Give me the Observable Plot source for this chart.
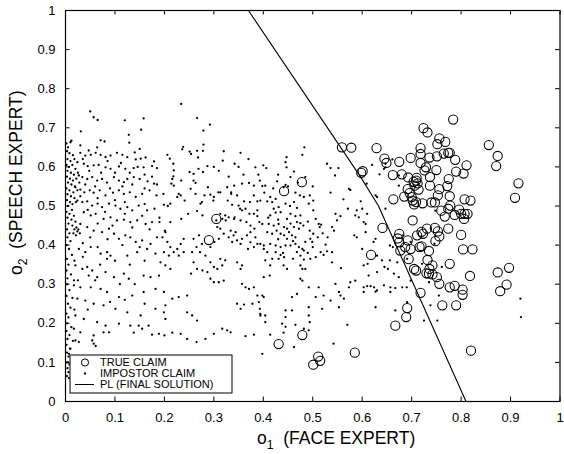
<!DOCTYPE html>
<html><head><meta charset="utf-8">
<script src="https://cdn.jsdelivr.net/npm/d3@7"></script>
<script src="https://cdn.jsdelivr.net/npm/@observablehq/plot@0.6"></script>
<style>html,body{margin:0;padding:0;background:#fff}svg{display:block}</style>
</head><body><div id="chart"></div>
<script>
// ---------- DATA ----------
const tickValues = [0,0.1,0.2,0.3,0.4,0.5,0.6,0.7,0.8,0.9,1];
const tickLabels = ["0","0.1","0.2","0.3","0.4","0.5","0.6","0.7","0.8","0.9","1"];
const legendLabels = ["TRUE CLAIM","IMPOSTOR CLAIM","PL (FINAL SOLUTION)"];
const xTitle = ["o","1","(FACE EXPERT)"];
const yTitle = ["o","2","(SPEECH EXPERT)"];

// PL (final solution) decision boundary
const plLine = [[0.370,1.0],[0.598,0.572],[0.633,0.500],[0.810,0.0]];

// true claims (circles)
const trueClaims = [
[0.559,0.650],[0.578,0.649],[0.629,0.648],[0.598,0.585],[0.601,0.589],[0.645,0.621],[0.649,0.610],[0.675,0.613],[0.698,0.623],[0.724,0.699],
[0.732,0.688],[0.784,0.721],[0.718,0.648],[0.756,0.673],[0.768,0.664],[0.752,0.658],[0.774,0.636],[0.777,0.636],[0.765,0.634],[0.718,0.633],
[0.736,0.624],[0.751,0.627],[0.788,0.618],[0.811,0.604],[0.856,0.656],[0.874,0.628],[0.871,0.602],[0.916,0.558],[0.909,0.521],[0.718,0.610],
[0.729,0.599],[0.726,0.591],[0.750,0.592],[0.662,0.579],[0.680,0.581],[0.693,0.573],[0.710,0.572],[0.709,0.565],[0.712,0.558],[0.704,0.562],
[0.737,0.574],[0.775,0.569],[0.790,0.588],[0.805,0.583],[0.772,0.551],[0.737,0.552],[0.756,0.543],[0.692,0.543],[0.696,0.533],[0.700,0.523],
[0.685,0.524],[0.714,0.542],[0.706,0.552],[0.702,0.514],[0.705,0.504],[0.709,0.510],[0.722,0.507],[0.740,0.509],[0.747,0.509],[0.753,0.527],
[0.777,0.525],[0.760,0.488],[0.778,0.501],[0.774,0.493],[0.787,0.477],[0.796,0.491],[0.800,0.480],[0.807,0.517],[0.819,0.514],[0.807,0.480],
[0.813,0.480],[0.806,0.467],[0.767,0.473],[0.663,0.517],[0.702,0.463],[0.641,0.444],[0.731,0.442],[0.720,0.434],[0.723,0.429],[0.711,0.425],
[0.747,0.444],[0.753,0.435],[0.756,0.422],[0.748,0.410],[0.774,0.442],[0.675,0.429],[0.672,0.417],[0.675,0.407],[0.677,0.386],[0.687,0.395],
[0.692,0.412],[0.716,0.395],[0.720,0.397],[0.735,0.385],[0.698,0.390],[0.800,0.426],[0.804,0.389],[0.823,0.389],[0.694,0.364],[0.732,0.362],
[0.742,0.348],[0.705,0.339],[0.709,0.335],[0.730,0.328],[0.735,0.327],[0.742,0.325],[0.736,0.339],[0.751,0.318],[0.756,0.301],[0.777,0.352],
[0.777,0.292],[0.787,0.296],[0.803,0.286],[0.803,0.273],[0.818,0.321],[0.874,0.330],[0.897,0.342],[0.892,0.299],[0.879,0.282],[0.718,0.278],
[0.691,0.239],[0.689,0.216],[0.667,0.194],[0.762,0.246],[0.790,0.246],[0.820,0.130],[0.585,0.125],[0.618,0.375],[0.478,0.561],[0.442,0.538],
[0.305,0.467],[0.290,0.413],[0.479,0.170],[0.431,0.147],[0.511,0.115],[0.515,0.104],[0.501,0.094]
];

// impostor claims (dots), grouped by region
const impostorStrip = [
[0.002,0.66],[0.005,0.65],[0.003,0.64],[0.008,0.635],[0.012,0.667],[0.015,0.63],[0.004,0.62],[0.010,0.615],[0.018,0.62],[0.002,0.605],
[0.007,0.60],[0.014,0.605],[0.020,0.595],[0.004,0.59],[0.011,0.585],[0.017,0.58],[0.025,0.585],[0.003,0.575],[0.009,0.57],[0.015,0.565],
[0.022,0.57],[0.005,0.56],[0.012,0.555],[0.019,0.55],[0.028,0.56],[0.002,0.545],[0.008,0.54],[0.016,0.535],[0.024,0.54],[0.004,0.53],
[0.011,0.525],[0.018,0.52],[0.003,0.515],[0.009,0.51],[0.014,0.505],[0.021,0.51],[0.005,0.50],[0.013,0.49],[0.002,0.485],[0.008,0.48],
[0.017,0.475],[0.004,0.47],[0.012,0.465],[0.020,0.46],[0.006,0.455],[0.014,0.45],[0.022,0.445],[0.026,0.44],[0.018,0.44],[0.024,0.435],
[0.029,0.43],[0.016,0.43],[0.021,0.425],[0.003,0.44],[0.008,0.43],[0.004,0.42],[0.010,0.41],[0.002,0.40],[0.007,0.39],[0.013,0.375],
[0.003,0.365],[0.018,0.36],[0.006,0.35],[0.002,0.335],[0.011,0.325],[0.004,0.315],[0.017,0.31],[0.003,0.30],[0.008,0.285],[0.002,0.27],
[0.014,0.265],[0.005,0.25],[0.010,0.24],[0.002,0.225],[0.018,0.235],[0.006,0.215],[0.003,0.20],[0.012,0.19],[0.002,0.18],[0.008,0.17],
[0.004,0.16],[0.015,0.155],[0.002,0.145],[0.009,0.135],[0.003,0.125],[0.006,0.115],[0.002,0.10],[0.008,0.095],[0.004,0.085],[0.006,0.075],
[0.003,0.065],[0.007,0.06]
];
const impostorLeft = [
[0.050,0.742],[0.057,0.727],[0.065,0.720],[0.120,0.719],[0.158,0.724],[0.031,0.691],[0.153,0.695],[0.128,0.682],[0.129,0.662],[0.071,0.668],
[0.079,0.665],[0.010,0.663],[0.030,0.655],[0.047,0.642],[0.064,0.650],[0.150,0.646],[0.140,0.637],
[0.030,0.636],[0.040,0.629],[0.051,0.631],[0.061,0.636],[0.071,0.631],[0.081,0.625],[0.091,0.629],[0.104,0.636],[0.115,0.631],[0.125,0.625],
[0.142,0.619],[0.152,0.621],[0.162,0.624],[0.179,0.614],[0.024,0.612],[0.037,0.608],[0.045,0.602],[0.057,0.604],[0.067,0.605],[0.081,0.599],
[0.091,0.595],[0.108,0.601],[0.121,0.595],[0.138,0.597],[0.158,0.599],[0.175,0.602],[0.185,0.597],[0.027,0.578],[0.034,0.574],[0.044,0.569],
[0.054,0.574],[0.064,0.565],[0.074,0.569],[0.084,0.560],[0.098,0.574],[0.108,0.565],[0.118,0.561],[0.125,0.569],[0.138,0.574],[0.150,0.569],
[0.166,0.563],[0.179,0.557],[0.020,0.548],[0.030,0.542],[0.038,0.535],[0.049,0.540],[0.057,0.534],[0.069,0.540],[0.081,0.527],[0.096,0.534],
[0.108,0.540],[0.118,0.531],[0.130,0.535],[0.142,0.523],[0.155,0.531],[0.170,0.540],[0.184,0.527],[0.024,0.514],[0.034,0.510],[0.044,0.512],
[0.054,0.501],[0.065,0.506],[0.074,0.497],[0.088,0.506],[0.101,0.501],[0.111,0.493],[0.125,0.497],[0.135,0.489],[0.148,0.501],[0.165,0.489],
[0.180,0.493],[0.037,0.484],[0.051,0.476],[0.061,0.480],[0.077,0.467],[0.091,0.471],[0.104,0.463],[0.118,0.465],[0.131,0.459],[0.145,0.463],
[0.162,0.454],[0.175,0.459],[0.030,0.454],[0.044,0.446],[0.057,0.437],[0.074,0.433],[0.088,0.442],[0.098,0.429],[0.108,0.416],[0.121,0.425],
[0.131,0.420],[0.142,0.408],[0.155,0.412],[0.172,0.403],[0.185,0.420],[0.027,0.390],[0.040,0.382],[0.051,0.395],[0.071,0.378],[0.084,0.382],
[0.091,0.373],[0.084,0.365],[0.125,0.373],[0.145,0.382],[0.165,0.390],[0.182,0.378],[0.020,0.348],[0.034,0.339],[0.044,0.344],[0.054,0.335],
[0.047,0.322],[0.064,0.318],[0.081,0.331],[0.098,0.318],[0.118,0.327],[0.128,0.314],[0.158,0.322],[0.172,0.318],[0.189,0.322],[0.017,0.297],
[0.030,0.292],[0.051,0.292],[0.071,0.288],[0.084,0.280],[0.108,0.267],[0.135,0.271],[0.158,0.280],[0.182,0.288],[0.024,0.263],[0.040,0.258],
[0.057,0.250],[0.077,0.246],[0.101,0.237],[0.125,0.228],[0.152,0.220],[0.182,0.237],[0.020,0.220],[0.037,0.211],[0.064,0.203],[0.081,0.194],
[0.108,0.199],[0.131,0.194],[0.155,0.186],[0.168,0.194],[0.017,0.186],[0.030,0.177],[0.057,0.169],[0.077,0.177],[0.088,0.177],[0.138,0.176],
[0.148,0.194],[0.175,0.171],[0.189,0.173],[0.020,0.156],[0.027,0.152],[0.054,0.156],[0.057,0.148],[0.061,0.142],[0.010,0.135],[0.007,0.122],
[0.005,0.100],
[0.035,0.620],[0.048,0.590],[0.072,0.585],[0.085,0.615],[0.100,0.585],[0.112,0.610],[0.130,0.585],[0.146,0.600],[0.160,0.580],[0.175,0.575],
[0.040,0.555],[0.060,0.550],[0.090,0.545],[0.115,0.550],[0.135,0.555],[0.160,0.545],[0.185,0.555],[0.030,0.525],[0.065,0.520],[0.100,0.515],
[0.120,0.510],[0.160,0.505],[0.045,0.490],[0.080,0.485],[0.120,0.480],[0.155,0.475],[0.190,0.470],[0.065,0.455],[0.095,0.450],[0.135,0.445],
[0.170,0.440],[0.050,0.420],[0.085,0.415],[0.115,0.400],[0.150,0.395],[0.035,0.405],[0.065,0.395],[0.100,0.360],[0.130,0.350],[0.160,0.360],
[0.070,0.350],[0.035,0.370],[0.110,0.300],[0.140,0.300],[0.060,0.310],[0.025,0.310],[0.090,0.255],[0.120,0.260],[0.045,0.235],[0.160,0.250]
];
const impostorMidLeft = [
[0.234,0.761],[0.266,0.725],[0.279,0.693],[0.292,0.708],[0.279,0.657],[0.238,0.651],[0.236,0.645],[0.251,0.639],[0.254,0.633],[0.266,0.641],
[0.268,0.624],[0.206,0.631],[0.211,0.621],[0.218,0.608],[0.219,0.591],[0.218,0.576],[0.216,0.569],[0.214,0.557],[0.278,0.641],[0.287,0.602],
[0.318,0.616],[0.354,0.636],[0.342,0.608],[0.384,0.599],[0.269,0.595],[0.278,0.587],[0.251,0.587],[0.259,0.582],[0.259,0.565],[0.263,0.559],
[0.234,0.565],[0.229,0.531],[0.233,0.527],[0.293,0.529],[0.300,0.523],[0.309,0.535],[0.273,0.506],[0.276,0.510],[0.199,0.503],[0.207,0.500],
[0.198,0.531],[0.219,0.552],[0.253,0.544],[0.327,0.548],[0.341,0.552],[0.357,0.557],[0.371,0.559],[0.381,0.552],[0.393,0.565],[0.335,0.535],
[0.347,0.527],[0.361,0.512],[0.373,0.510],[0.381,0.527],[0.388,0.512],[0.337,0.503],[0.350,0.501],[0.364,0.493],[0.357,0.489],[0.388,0.489],
[0.381,0.480],[0.388,0.474],[0.392,0.459],[0.374,0.450],[0.323,0.476],[0.330,0.471],[0.317,0.467],[0.305,0.463],[0.341,0.467],[0.354,0.463],
[0.366,0.459],[0.374,0.433],[0.382,0.442],[0.367,0.425],[0.357,0.416],[0.384,0.420],[0.374,0.407],[0.388,0.403],[0.369,0.390],[0.381,0.395],
[0.344,0.433],[0.334,0.437],[0.340,0.425],[0.347,0.412],[0.337,0.408],[0.354,0.403],[0.330,0.420],[0.307,0.446],[0.313,0.442],[0.320,0.429],
[0.310,0.416],[0.301,0.408],[0.293,0.395],[0.270,0.425],[0.259,0.416],[0.276,0.403],[0.265,0.395],[0.256,0.382],[0.272,0.382],[0.283,0.373],
[0.239,0.416],[0.233,0.403],[0.226,0.390],[0.219,0.382],[0.229,0.373],[0.239,0.382],[0.202,0.433],[0.196,0.420],[0.206,0.408],[0.212,0.395],
[0.199,0.382],[0.209,0.373],[0.192,0.356],[0.202,0.348],[0.212,0.339],[0.259,0.356],[0.266,0.339],[0.254,0.327],[0.277,0.335],[0.293,0.356],
[0.300,0.344],[0.287,0.331],[0.313,0.365],[0.323,0.361],[0.317,0.348],[0.307,0.339],[0.347,0.356],[0.357,0.348],[0.354,0.339],[0.293,0.314],
[0.300,0.305],[0.310,0.305],[0.320,0.309],[0.357,0.301],[0.364,0.292],[0.371,0.288],[0.381,0.292],[0.388,0.271],[0.391,0.254],[0.378,0.250],
[0.393,0.237],[0.394,0.224],[0.347,0.250],[0.354,0.237],[0.361,0.248],[0.246,0.271],[0.229,0.267],[0.216,0.263],[0.199,0.280],[0.202,0.246],
[0.199,0.228],[0.202,0.211],[0.246,0.228],[0.256,0.220],[0.266,0.207],[0.317,0.186],[0.327,0.182],[0.334,0.177],[0.233,0.173],[0.216,0.176],
[0.200,0.169],[0.246,0.160],[0.265,0.152],[0.364,0.167],[0.381,0.171],[0.300,0.173],[0.283,0.160],
[0.190,0.459],[0.201,0.437],[0.212,0.459],[0.234,0.467],[0.248,0.480],[0.266,0.487],[0.277,0.476],[0.212,0.506],[0.226,0.523],[0.241,0.514],
[0.263,0.531],[0.281,0.527],[0.299,0.514],[0.288,0.548],[0.313,0.535],[0.328,0.514],[0.335,0.531],[0.313,0.480],[0.324,0.463],[0.342,0.471],
[0.353,0.493],[0.372,0.480],[0.360,0.580],[0.330,0.575],[0.310,0.590],[0.350,0.600],[0.370,0.620],[0.320,0.640],[0.300,0.600],[0.390,0.580]
];
const impostorMid = [
[0.483,0.650],[0.479,0.631],[0.447,0.625],[0.445,0.612],[0.447,0.599],[0.406,0.597],[0.400,0.604],[0.529,0.608],[0.536,0.597],[0.552,0.597],
[0.545,0.578],[0.462,0.588],[0.455,0.574],[0.485,0.574],[0.428,0.563],[0.398,0.551],[0.404,0.552],[0.445,0.554],[0.441,0.548],[0.573,0.544],
[0.576,0.541],[0.402,0.534],[0.465,0.534],[0.474,0.527],[0.482,0.523],[0.494,0.527],[0.536,0.534],[0.501,0.514],[0.492,0.506],[0.414,0.523],
[0.425,0.518],[0.418,0.510],[0.394,0.514],[0.408,0.512],[0.445,0.506],[0.462,0.510],[0.454,0.500],[0.468,0.495],[0.562,0.517],[0.571,0.493],
[0.589,0.489],[0.597,0.512],[0.421,0.493],[0.431,0.497],[0.425,0.483],[0.435,0.484],[0.414,0.476],[0.455,0.480],[0.465,0.474],[0.475,0.476],
[0.448,0.467],[0.501,0.489],[0.506,0.467],[0.546,0.480],[0.556,0.474],[0.549,0.463],[0.586,0.476],[0.593,0.471],[0.398,0.454],[0.411,0.454],
[0.421,0.450],[0.431,0.454],[0.442,0.446],[0.448,0.442],[0.468,0.459],[0.475,0.456],[0.481,0.450],[0.472,0.442],[0.462,0.446],[0.512,0.454],
[0.517,0.452],[0.514,0.446],[0.539,0.446],[0.543,0.437],[0.408,0.433],[0.418,0.429],[0.427,0.437],[0.435,0.429],[0.442,0.425],[0.452,0.433],
[0.458,0.425],[0.448,0.416],[0.465,0.420],[0.494,0.437],[0.501,0.429],[0.495,0.416],[0.485,0.408],[0.584,0.425],[0.589,0.420],[0.394,0.403],
[0.401,0.399],[0.414,0.403],[0.425,0.399],[0.435,0.395],[0.445,0.399],[0.455,0.399],[0.465,0.403],[0.472,0.395],[0.479,0.390],[0.468,0.382],
[0.482,0.386],[0.499,0.408],[0.526,0.401],[0.516,0.382],[0.522,0.375],[0.529,0.384],[0.401,0.390],[0.408,0.382],[0.425,0.382],[0.435,0.375],
[0.442,0.369],[0.431,0.365],[0.404,0.361],[0.418,0.365],[0.414,0.348],[0.475,0.373],[0.482,0.363],[0.495,0.365],[0.506,0.369],[0.539,0.382],
[0.539,0.356],[0.557,0.341],[0.441,0.348],[0.448,0.339],[0.475,0.348],[0.479,0.339],[0.485,0.339],[0.401,0.318],[0.413,0.322],[0.475,0.314],
[0.479,0.309],[0.546,0.301],[0.576,0.305],[0.586,0.309],[0.573,0.292],[0.492,0.292],[0.512,0.292],[0.553,0.280],[0.556,0.271],[0.563,0.263],
[0.458,0.267],[0.468,0.275],[0.506,0.267],[0.522,0.271],[0.536,0.258],[0.398,0.271],[0.401,0.267],[0.492,0.241],[0.519,0.237],[0.553,0.241],
[0.445,0.233],[0.458,0.233],[0.394,0.220],[0.404,0.220],[0.445,0.216],[0.492,0.220],[0.494,0.203],[0.404,0.203],[0.438,0.199],[0.445,0.191],
[0.465,0.196],[0.482,0.186],[0.492,0.182],[0.414,0.171],[0.441,0.176],[0.570,0.196],[0.542,0.148],[0.462,0.139],[0.398,0.122],
[0.410,0.470],[0.430,0.465],[0.455,0.455],[0.490,0.460],[0.520,0.430],[0.530,0.420],[0.460,0.410],[0.500,0.395],[0.510,0.420],[0.430,0.415],
[0.440,0.380],[0.460,0.365],[0.490,0.380],[0.450,0.550],[0.420,0.545],[0.470,0.560],[0.500,0.550],[0.430,0.580]
];
const impostorRight = [
[0.620,0.605],[0.661,0.619],[0.647,0.608],[0.635,0.581],[0.644,0.595],[0.647,0.599],[0.674,0.578],[0.609,0.557],[0.674,0.552],[0.630,0.523],
[0.600,0.493],[0.610,0.480],[0.603,0.459],[0.607,0.454],[0.627,0.527],[0.647,0.493],[0.748,0.488],[0.746,0.403],[0.721,0.352],[0.761,0.344],
[0.735,0.305],[0.738,0.246],[0.755,0.271],[0.725,0.207],[0.752,0.207],[0.607,0.433],[0.600,0.390],[0.623,0.408],[0.627,0.416],[0.611,0.352],
[0.603,0.348],[0.630,0.373],[0.640,0.361],[0.656,0.399],[0.662,0.395],[0.645,0.344],[0.652,0.339],[0.656,0.361],[0.664,0.327],[0.674,0.318],
[0.603,0.292],[0.610,0.295],[0.617,0.295],[0.624,0.292],[0.630,0.284],[0.644,0.297],[0.657,0.292],[0.667,0.290],[0.681,0.292],[0.603,0.280],
[0.627,0.281],[0.613,0.322],[0.630,0.331],[0.657,0.280],[0.627,0.241],[0.667,0.233],[0.691,0.254],[0.690,0.292],[0.671,0.356],[0.691,0.365],
[0.683,0.425],[0.698,0.408],[0.698,0.309],[0.920,0.263],[0.921,0.216]
];
const impostor = [...impostorStrip, ...impostorLeft, ...impostorMidLeft, ...impostorMid, ...impostorRight];

// ---------- CHART ----------
const FONT = "'Liberation Sans', Arial, Helvetica, sans-serif";
const fmt = d => tickLabels[tickValues.indexOf(d)];
const W = 564, H = 454, ML = 65, MR = 4.5, MT = 10, MB = 53;
const plotW = W - ML - MR, plotH = H - MT - MB, TICK = 4.5;

const chart = Plot.plot({
  width: W, height: H,
  marginLeft: ML, marginRight: MR, marginTop: MT, marginBottom: MB,
  x: {domain: [0, 1]},
  y: {domain: [0, 1]},
  style: {fontFamily: FONT, fontSize: "13px", color: "black", background: "white", overflow: "visible"},
  marks: [
    Plot.dot(impostor, {x: d => d[0], y: d => d[1], r: 1.15, fill: "black", stroke: "none"}),
    Plot.dot(trueClaims, {x: d => d[0], y: d => d[1], r: 4.6, fill: "none", stroke: "black", strokeWidth: 1.05}),
    Plot.line(plLine, {x: d => d[0], y: d => d[1], stroke: "black", strokeWidth: 1.1}),
    Plot.tickX(tickValues, {x: d => d, insetTop: plotH - TICK, stroke: "black"}),
    Plot.tickX(tickValues, {x: d => d, insetBottom: plotH - TICK, stroke: "black"}),
    Plot.tickY(tickValues, {y: d => d, insetRight: plotW - TICK, stroke: "black"}),
    Plot.tickY(tickValues, {y: d => d, insetLeft: plotW - TICK, stroke: "black"}),
    Plot.frame({stroke: "black", strokeWidth: 1.2}),
    Plot.axisX(tickValues, {tickSize: 0, tickPadding: 11, tickFormat: fmt, label: null, fontSize: 13}),
    Plot.axisY(tickValues, {tickSize: 0, tickPadding: 10, tickFormat: fmt, label: null, fontSize: 13})
  ]
});
document.getElementById("chart").appendChild(chart);

// ---------- axis titles & legend ----------
const svg = d3.select(chart);
function title(g, parts, size) {
  const t = g.append("text").attr("font-family", FONT).attr("font-size", size)
    .attr("fill", "black").attr("text-anchor", "start");
  t.append("tspan").text(parts[0]);
  t.append("tspan").attr("dy", size * 0.3).attr("font-size", size * 0.7).text(parts[1]);
  t.append("tspan").attr("dy", -size * 0.3).text("\u00a0\u00a0" + parts[2]);
  return t;
}
title(svg.append("g").attr("transform", "translate(257,444)"), xTitle, 17.5);
title(svg.append("g").attr("transform", "translate(22,275) rotate(-90)"), yTitle, 17.5);

const lg = svg.append("g").attr("font-family", FONT).attr("font-size", 11).attr("text-anchor", "start");
lg.append("rect").attr("x", 70).attr("y", 355).attr("width", 162).attr("height", 38)
  .attr("fill", "white").attr("stroke", "black").attr("stroke-width", 1);
const rows = [362.5, 373.5, 384.5];
lg.append("circle").attr("cx", 85).attr("cy", rows[0]).attr("r", 3.6).attr("fill", "none").attr("stroke", "black");
lg.append("circle").attr("cx", 85).attr("cy", rows[1]).attr("r", 1.15).attr("fill", "black");
lg.append("line").attr("x1", 75).attr("x2", 94).attr("y1", rows[2]).attr("y2", rows[2]).attr("stroke", "black");
legendLabels.forEach((s, i) => {
  lg.append("text").attr("x", 100).attr("y", rows[i]).attr("dy", "0.36em").attr("fill", "black").text(s);
});
</script>
</body></html>
